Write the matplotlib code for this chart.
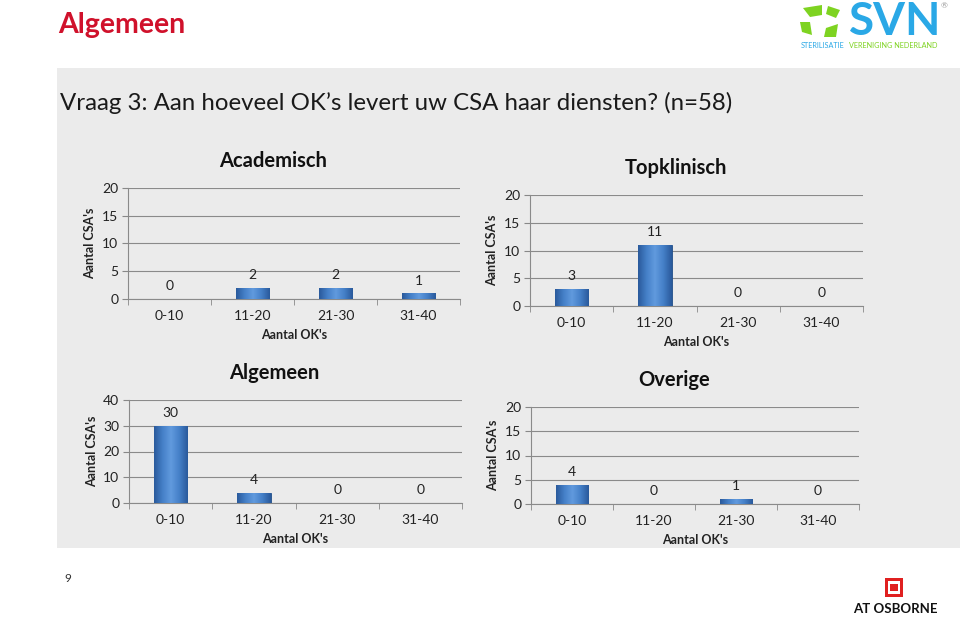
import numpy as np
import matplotlib
matplotlib.use('Agg')
import matplotlib.pyplot as plt
from matplotlib.patches import Rectangle, Polygon
from matplotlib.colors import LinearSegmentedColormap

plt.rcParams['font.family'] = ['Lato', 'DejaVu Sans']

### Data
categories = ['0-10', '11-20', '21-30', '31-40']
academisch = [0, 2, 2, 1]
topklinisch = [3, 11, 0, 0]
algemeen = [30, 4, 0, 0]
overige = [4, 0, 1, 0]

W, H = 960, 617
fig = plt.figure(figsize=(W / 100, H / 100), dpi=100)
fig.patch.set_facecolor('white')


def px(x0, y0, x1, y1):
    return [x0 / W, 1 - y1 / H, (x1 - x0) / W, (y1 - y0) / H]


def fy(y):
    return 1 - y / H


# gray panel behind the charts
fig.patches.append(Rectangle((57 / W, fy(548)), (960 - 57) / W, (548 - 68) / H,
                             transform=fig.transFigure, facecolor='#ebebeb',
                             edgecolor='none', zorder=-1))

fig.text(58 / W, fy(25), 'Algemeen', color='#d0112b', fontsize=20.5,
         fontweight='bold', va='center', ha='left')
fig.text(60 / W, fy(103), "Vraag 3: Aan hoeveel OK\u2019s levert uw CSA haar diensten? (n=58)",
         color='#1a1a1a', fontsize=17.3, va='center', ha='left')

bar_cmap = LinearSegmentedColormap.from_list(
    'bevel', ['#2a5a9c', '#4580c8', '#619ade', '#4580c8', '#2a5a9c'])


def bar_chart(rect, title, vals, ymax, step):
    ax = fig.add_axes(px(*rect))
    ax.set_facecolor('none')
    x = np.arange(len(categories))
    bars = ax.bar(x, vals, width=0.4, color='#4580c8', edgecolor='#1f4b85',
                  linewidth=0.6, zorder=3)
    grad = np.linspace(0, 1, 64).reshape(1, -1)
    for b in bars:
        if b.get_height() <= 0:
            continue
        im = ax.imshow(grad, cmap=bar_cmap, aspect='auto', zorder=3.5,
                       extent=[b.get_x(), b.get_x() + b.get_width(), 0, b.get_height()])
        im.set_clip_path(b)
    for xi, v in zip(x, vals):
        ax.annotate(str(v), (xi, v), xytext=(0, 5), textcoords='offset points',
                    ha='center', va='bottom', fontsize=10, color='#222222')
    ax.set_xlim(-0.5, len(categories) - 0.5)
    ax.set_ylim(0, ymax)
    ax.set_yticks(np.arange(0, ymax + 1, step))
    ax.set_xticks(x)
    ax.set_xticklabels(categories)
    ax.set_xticks(np.arange(-0.5, len(categories)), minor=True)
    ax.tick_params(axis='x', which='major', length=0, pad=8, labelsize=10, labelcolor='#222222')
    ax.tick_params(axis='x', which='minor', length=4, color='#888888')
    ax.tick_params(axis='y', length=4, color='#888888', labelsize=10, labelcolor='#222222', pad=3)
    ax.grid(axis='y', color='#8a8a8a', linewidth=0.8, zorder=0)
    for s in ['top', 'right']:
        ax.spines[s].set_visible(False)
    for s in ['left', 'bottom']:
        ax.spines[s].set_color('#8a8a8a')
        ax.spines[s].set_linewidth(0.8)
    ax.set_xlabel("Aantal OK's", fontsize=9, fontweight='bold', color='#222222', labelpad=5)
    ax.set_ylabel("Aantal CSA's", fontsize=9, fontweight='bold', color='#222222', labelpad=4)
    width_px = rect[2] - rect[0]
    ax.set_title(title, fontsize=14.5, fontweight='bold', color='#111111', pad=15,
                 x=0.5 - 21 / width_px)
    ax.set_axisbelow(True)
    return ax


bar_chart((128, 188, 460, 299), 'Academisch', academisch, 20, 5)
bar_chart((530, 195, 863, 306), 'Topklinisch', topklinisch, 20, 5)
bar_chart((129, 400, 462, 503), 'Algemeen', algemeen, 40, 10)
bar_chart((531, 407, 859, 504), 'Overige', overige, 20, 5)

# SVN logo (rough)
green = '#7ed321'
blue = '#2aa8e6'
for poly in [[(803, 8), (822, 5), (822, 15), (810, 17)],
             [(800, 22), (810, 22), (812, 35), (802, 32)],
             [(826, 28), (838, 24), (836, 37), (824, 37)],
             [(828, 6), (840, 10), (836, 18), (826, 14)]]:
    fig.patches.append(Polygon([(a / W, fy(b)) for a, b in poly], closed=True,
                               transform=fig.transFigure, facecolor=green,
                               edgecolor='none'))
fig.text(895 / W, fy(22), 'SVN', color=blue, fontsize=33, fontweight='bold',
         ha='center', va='center')
fig.text(944 / W, fy(6), '\u00ae', color='#999999', fontsize=6, ha='center', va='center')
fig.text(801 / W, fy(45), 'STERILISATIE', color=blue, fontsize=5.2, ha='left', va='center')
fig.text(849 / W, fy(45), 'VERENIGING NEDERLAND', color=green, fontsize=5.2, ha='left', va='center')

# page number and AT OSBORNE logo
fig.text(68 / W, fy(579), '9', fontsize=8.5, color='#333333', ha='center', va='center')
fig.patches.append(Rectangle((885 / W, fy(597)), 18 / W, 19 / H, transform=fig.transFigure,
                             facecolor='#e02020', edgecolor='none'))
fig.patches.append(Rectangle((888 / W, fy(594)), 12 / W, 13 / H, transform=fig.transFigure,
                             facecolor='white', edgecolor='none'))
fig.patches.append(Rectangle((890 / W, fy(591)), 8 / W, 7 / H, transform=fig.transFigure,
                             facecolor='#e02020', edgecolor='none'))
fig.text(895 / W, fy(609), 'AT OSBORNE', fontsize=9.5, fontweight='bold', color='#111111',
         ha='center', va='center')

fig.savefig('out.png', dpi=100)
